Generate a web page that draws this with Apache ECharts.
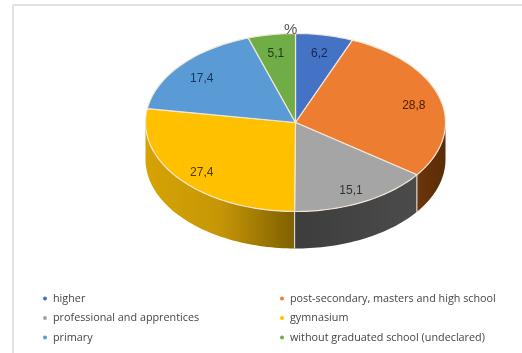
<!DOCTYPE html>
<html>
<head>
<meta charset="utf-8">
<style>html,body{margin:0;padding:0;background:#fff}#chart{width:522px;height:353px}</style>
<script src="https://cdn.jsdelivr.net/npm/echarts@6/dist/echarts.min.js"></script>
</head>
<body>
<div id="chart"></div>
<script>
// Education levels, share of population (%)
const categories = ['higher', 'post-secondary, masters and high school', 'professional and apprentices', 'gymnasium', 'primary', 'without graduated school (undeclared)'];
const shares = [6.2, 28.8, 15.1, 27.4, 17.4, 5.1];
const valueLabels = ['6,2', '28,8', '15,1', '27,4', '17,4', '5,1'];
const topColors = ['#4472c4', '#ed7d31', '#a5a5a5', '#ffc000', '#5b9bd5', '#70ad47'];
const wallStops = [
  ['#2f528f', '#2f528f'],
  ['#6b360b', '#5a2c07'],
  ['#3d3d3d', '#4b4b4b'],
  ['#d6a304', '#c69606', '#7f6000'],
  ['#3f75a8', '#3f75a8'],
  ['#4d7a30', '#4d7a30']
];
const labelInk = ['#14274f', '#4a2004', '#333333', '#4a3800', '#17365d', '#1e3a10'];
const legendLeft = [0, 2, 4];
const legendRight = [1, 3, 5];

// Flattened disc: elliptical top face plus an extruded rim
const disc = { cx: 295.5, cy: 122.5, rx: 150, ry: 89, depth: 37, labelAt: 0.82, labelDrop: 3 };
const total = shares.reduce((a, b) => a + b, 0);

function pointAt(deg, dy) {
  const r = deg * Math.PI / 180;
  return [disc.cx + disc.rx * Math.sin(r), disc.cy - disc.ry * Math.cos(r) + (dy || 0)];
}
function arc(from, to, dy) {
  const pts = [];
  const n = Math.max(2, Math.ceil(Math.abs(to - from) / 1.5));
  for (let i = 0; i <= n; i++) pts.push(pointAt(from + (to - from) * i / n, dy));
  return pts;
}

function renderSlice(idx) {
  return function (params, api) {
    const start = api.value(0) / total * 360;
    const end = api.value(1) / total * 360;
    const children = [];
    const lo = Math.max(start, 90), hi = Math.min(end, 270);
    if (hi > lo) {
      const upper = arc(lo, hi, 0);
      const lower = arc(hi, lo, disc.depth);
      const xs = upper.map(p => p[0]);
      const stops = wallStops[idx];
      // Rim shading runs left to right in screen space
      children.push({
        type: 'polygon', z2: 1,
        shape: { points: upper.concat(lower) },
        style: {
          fill: {
            type: 'linear', global: true,
            x: Math.min.apply(null, xs), y: 0, x2: Math.max.apply(null, xs), y2: 0,
            colorStops: stops.map((color, i) => ({ offset: i / (stops.length - 1), color }))
          }
        }
      });
      // Pale seam where two rim segments meet
      if (start > 90 && start < 270) {
        const a = pointAt(start, 0), b = pointAt(start, disc.depth);
        children.push({
          type: 'line', z2: 2,
          shape: { x1: a[0], y1: a[1], x2: b[0], y2: b[1] },
          style: { stroke: '#d8d6d0', lineWidth: 1.2 }
        });
      }
    }
    children.push({
      type: 'polygon', z2: 3,
      shape: { points: [[disc.cx, disc.cy]].concat(arc(start, end, 0)) },
      style: { fill: topColors[idx], stroke: '#f3e6d8', lineWidth: 1.2, lineJoin: 'round' }
    });
    const lab = pointAt((start + end) / 2, 0);
    children.push({
      type: 'text', z2: 4,
      x: disc.cx + (lab[0] - disc.cx) * disc.labelAt,
      y: disc.cy + (lab[1] - disc.cy) * disc.labelAt + disc.labelDrop,
      style: {
        text: valueLabels[idx], align: 'center', verticalAlign: 'middle',
        fontFamily: 'Liberation Sans', fontSize: 12, fill: labelInk[idx]
      }
    });
    return { type: 'group', children };
  };
}

let running = 0;
const series = categories.map((name, idx) => {
  const row = [running, running + shares[idx]];
  running += shares[idx];
  return {
    type: 'custom', name, coordinateSystem: 'none', silent: true,
    itemStyle: { color: topColors[idx] },
    renderItem: renderSlice(idx),
    data: [row],
    encode: { value: [0, 1] }
  };
});

function legendColumn(left, ids) {
  return {
    left, top: 292, orient: 'vertical', itemWidth: 4, itemHeight: 4, itemGap: 6.5,
    icon: 'circle', selectedMode: false, padding: 0,
    textStyle: { fontFamily: 'Open Sans', fontSize: 10.8, color: '#444', padding: [0, 0, 0, 1], lineHeight: 13 },
    data: ids.map(i => categories[i])
  };
}

const chart = echarts.init(document.getElementById('chart'), null, { renderer: 'canvas' });
chart.setOption({
  animation: false,
  backgroundColor: '#fff',
  title: {
    text: '%', left: 284, top: 22, padding: 0,
    textStyle: { fontFamily: 'Liberation Sans', fontSize: 15, fontWeight: 'normal', color: '#555' }
  },
  // Chart-area frame: only its top and left edges fall inside the view
  graphic: [
    { type: 'line', shape: { x1: 13, y1: 5, x2: 522, y2: 5 }, style: { stroke: '#e2e2e2', lineWidth: 2 } },
    { type: 'line', shape: { x1: 13, y1: 5, x2: 13, y2: 353 }, style: { stroke: '#e2e2e2', lineWidth: 2 } }
  ],
  legend: [legendColumn(43, legendLeft), legendColumn(280, legendRight)],
  series
});
</script>
</body>
</html>
